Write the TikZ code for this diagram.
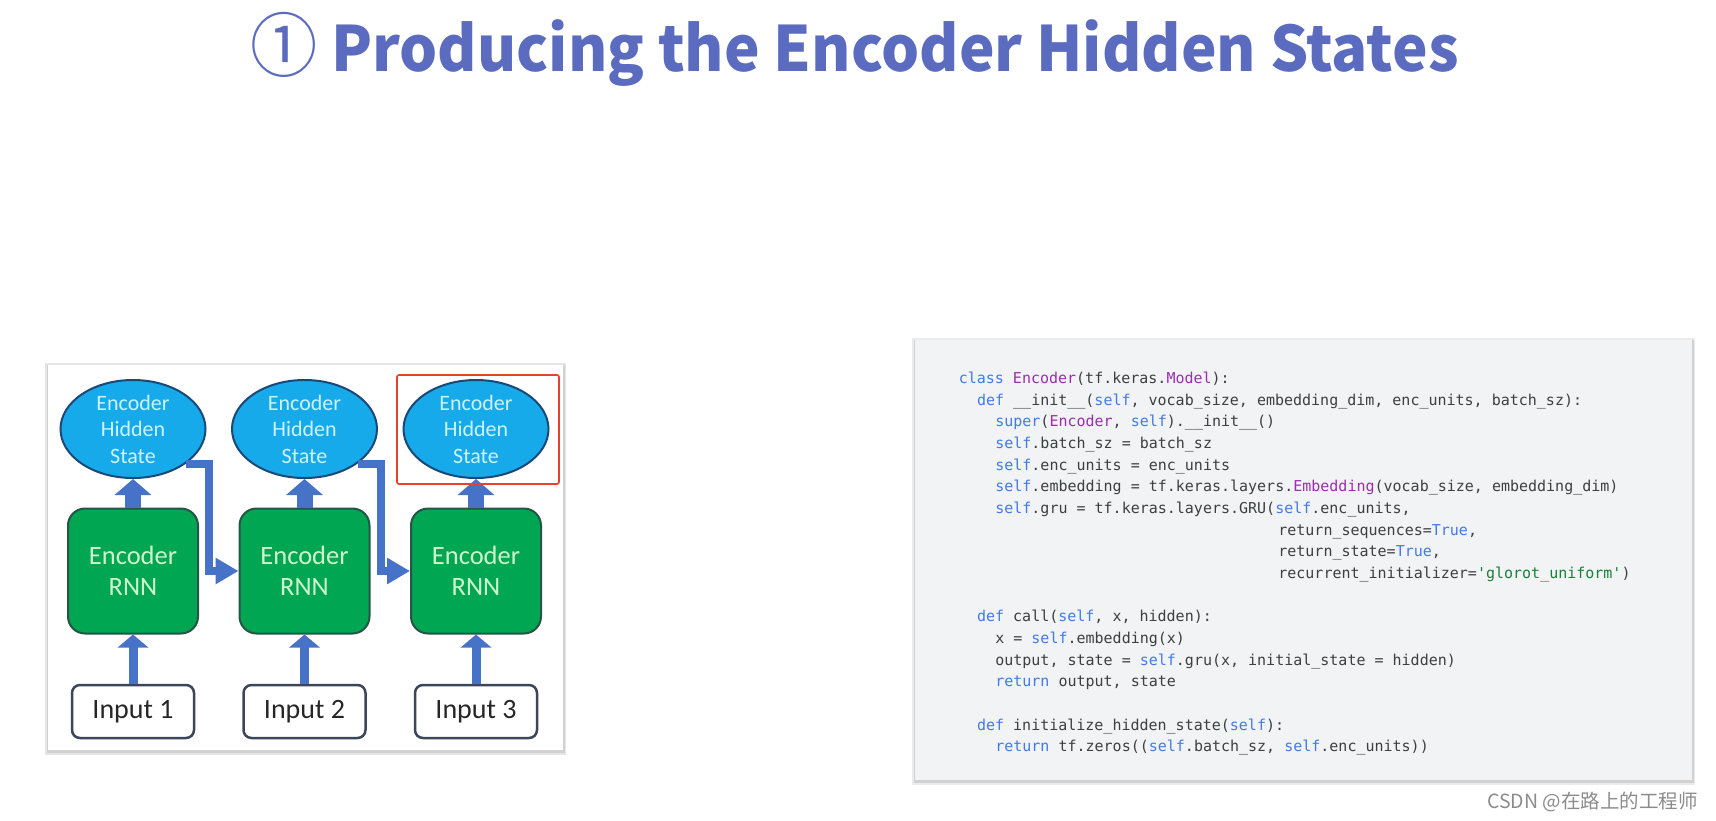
\documentclass[tikz,border=0pt]{standalone}
\usepackage{fontspec}
\usepackage{xcolor}
\usetikzlibrary{
    arrows.meta,
    shapes.geometric
}
\newfontfamily\titlefont{Noto Sans CJK SC}[FakeStretch=0.96]
\newfontfamily\markfont{Noto Sans CJK SC}
\newfontfamily\diagfont{Carlito}
\newfontfamily\codefont{DejaVu Sans Mono}

\definecolor{titleblue}{RGB}{91,107,192}
\definecolor{statefill}{RGB}{22,170,235}
\definecolor{stateedge}{RGB}{28,72,120}
\definecolor{statetext}{RGB}{205,242,255}
\definecolor{rnnfill}{RGB}{0,166,81}
\definecolor{rnnedge}{RGB}{38,84,72}
\definecolor{rnntext}{RGB}{205,245,205}
\definecolor{inedge}{RGB}{60,70,88}
\definecolor{linkblue}{RGB}{70,114,200}
\definecolor{markred}{RGB}{232,64,44}
\definecolor{codebg}{RGB}{241,243,244}
\definecolor{codetext}{RGB}{60,64,67}
\definecolor{codekw}{RGB}{66,123,230}
\definecolor{codecls}{RGB}{156,45,176}
\definecolor{codestr}{RGB}{24,128,56}

% token colours of the listing
\newcommand{\pykw}[1]{\textcolor{codekw}{#1}}
\newcommand{\pycls}[1]{\textcolor{codecls}{#1}}
\newcommand{\pystr}[1]{\textcolor{codestr}{#1}}

\tikzset{
    % diagram nodes
    statenode/.style={
        ellipse, draw=stateedge, line width=2pt, fill=statefill,
        text=statetext, minimum width=145pt, minimum height=98pt,
        inner sep=0pt, align=center,
        font=\diagfont\fontsize{22}{26.5}\selectfont
    },
    rnnbox/.style={
        rectangle, rounded corners=17pt, draw=rnnedge, line width=2pt,
        fill=rnnfill, text=rnntext, minimum width=130pt,
        minimum height=125pt, inner sep=0pt, align=center,
        font=\diagfont\fontsize{26.5}{31}\selectfont
    },
    inputbox/.style={
        rectangle, rounded corners=8pt, draw=inedge, line width=2.5pt,
        fill=white, text=black!85, minimum width=122pt,
        minimum height=53pt, inner sep=0pt,
        font=\diagfont\fontsize{28}{30}\selectfont
    },
    % block arrows
    inarrow/.style={
        draw=linkblue, line width=9pt,
        -{Triangle[width=30pt, length=13pt]}
    },
    statearrow/.style={
        draw=linkblue, line width=16pt,
        -{Triangle[width=36pt, length=16pt]}
    },
    linkarrow/.style={
        draw=linkblue, line width=8pt, line join=miter,
        -{Triangle[width=25pt, length=23pt]}
    },
    % text
    titletext/.style={
        anchor=base, inner sep=0pt, text=titleblue,
        font=\titlefont\bfseries\fontsize{62.5}{80}\selectfont
    },
    codeline/.style={
        anchor=base west, inner sep=0pt, text=codetext,
        font=\codefont\fontsize{15}{21.7}\selectfont
    }
}

\begin{document}
\begin{tikzpicture}[x=1pt, y=-1pt]
    \useasboundingbox (0,0) rectangle (1716,820);
    \fill[white] (0,0) rectangle (1716,820);

    % title
    \node[titletext] (title) at (854.5,71.7)
        {{\mdseries\fontsize{70}{80}\selectfont ①} Producing the Encoder Hidden States};

    % picture panel
    \fill[black!10] (45,363) rectangle (566,755);
    \fill[black!18] (46.5,364.5) rectangle (564.5,752.5);
    \fill[white] (48,365) rectangle (563,750);

    \foreach \i/\x in {1/133, 2/304.5, 3/476} {
        \node[rnnbox] (rnn\i) at (\x,571) {Encoder\\RNN};
        \node[statenode] (hs\i) at (\x,429) {Encoder\\Hidden\\State};
        \node[inputbox] (in\i) at (\x,711.5) {Input \i};
    }
    \foreach \i in {1,2,3} {
        \draw[inarrow] (in\i) -- (rnn\i);
        \draw[statearrow] (rnn\i) -- (hs\i);
    }
    \draw[linkarrow] (hs1.-33) -| ([xshift=10pt]rnn1.east) -- (rnn2.west);
    \draw[linkarrow] (hs2.-33) -| ([xshift=10pt]rnn2.east) -- (rnn3.west);

    % highlight of the last state
    \draw[markred, line width=1.6pt, rounded corners=2pt] (397,375) rectangle (559,484);

    % code panel
    \fill[black!8] (912,338) rectangle (1695,785);
    \fill[black!18] (913.5,339.5) rectangle (1693.5,782.5);
    \fill[codebg] (915,340) rectangle (1692,780);

    \node[codeline] (c1) at (958.6,383.5)
        {\pykw{class} \pycls{Encoder}(tf.keras.\pycls{Model}):};
    \node[codeline] (c2) at ({958.6+2*9.13},405.2)
        {\pykw{def} \_\_init\_\_(\pykw{self}, vocab\_size, embedding\_dim, enc\_units, batch\_sz):};
    \node[codeline] (c3) at ({958.6+4*9.13},426.8)
        {\pykw{super}(\pycls{Encoder}, \pykw{self}).\_\_init\_\_()};
    \node[codeline] (c4) at ({958.6+4*9.13},448.5)
        {\pykw{self}.batch\_sz = batch\_sz};
    \node[codeline] (c5) at ({958.6+4*9.13},470.2)
        {\pykw{self}.enc\_units = enc\_units};
    \node[codeline] (c6) at ({958.6+4*9.13},491.9)
        {\pykw{self}.embedding = tf.keras.layers.\pycls{Embedding}(vocab\_size, embedding\_dim)};
    \node[codeline] (c7) at ({958.6+4*9.13},513.5)
        {\pykw{self}.gru = tf.keras.layers.GRU(\pykw{self}.enc\_units,};
    \node[codeline] (c8) at ({958.6+35*9.13},535.2)
        {return\_sequences=\pykw{True},};
    \node[codeline] (c9) at ({958.6+35*9.13},556.9)
        {return\_state=\pykw{True},};
    \node[codeline] (c10) at ({958.6+35*9.13},578.5)
        {recurrent\_initializer=\pystr{'glorot\_uniform'})};
    \node[codeline] (c12) at ({958.6+2*9.13},621.9)
        {\pykw{def} call(\pykw{self}, x, hidden):};
    \node[codeline] (c13) at ({958.6+4*9.13},643.5)
        {x = \pykw{self}.embedding(x)};
    \node[codeline] (c14) at ({958.6+4*9.13},665.2)
        {output, state = \pykw{self}.gru(x, initial\_state = hidden)};
    \node[codeline] (c15) at ({958.6+4*9.13},686.9)
        {\pykw{return} output, state};
    \node[codeline] (c17) at ({958.6+2*9.13},730.2)
        {\pykw{def} initialize\_hidden\_state(\pykw{self}):};
    \node[codeline] (c18) at ({958.6+4*9.13},751.9)
        {\pykw{return} tf.zeros((\pykw{self}.batch\_sz, \pykw{self}.enc\_units))};

    % watermark
    \node[anchor=base east, inner sep=0pt, text=black!45,
        font=\markfont\fontsize{19.5}{22}\selectfont] (mark) at (1698,808)
        {CSDN @在路上的工程师};
\end{tikzpicture}
\end{document}
